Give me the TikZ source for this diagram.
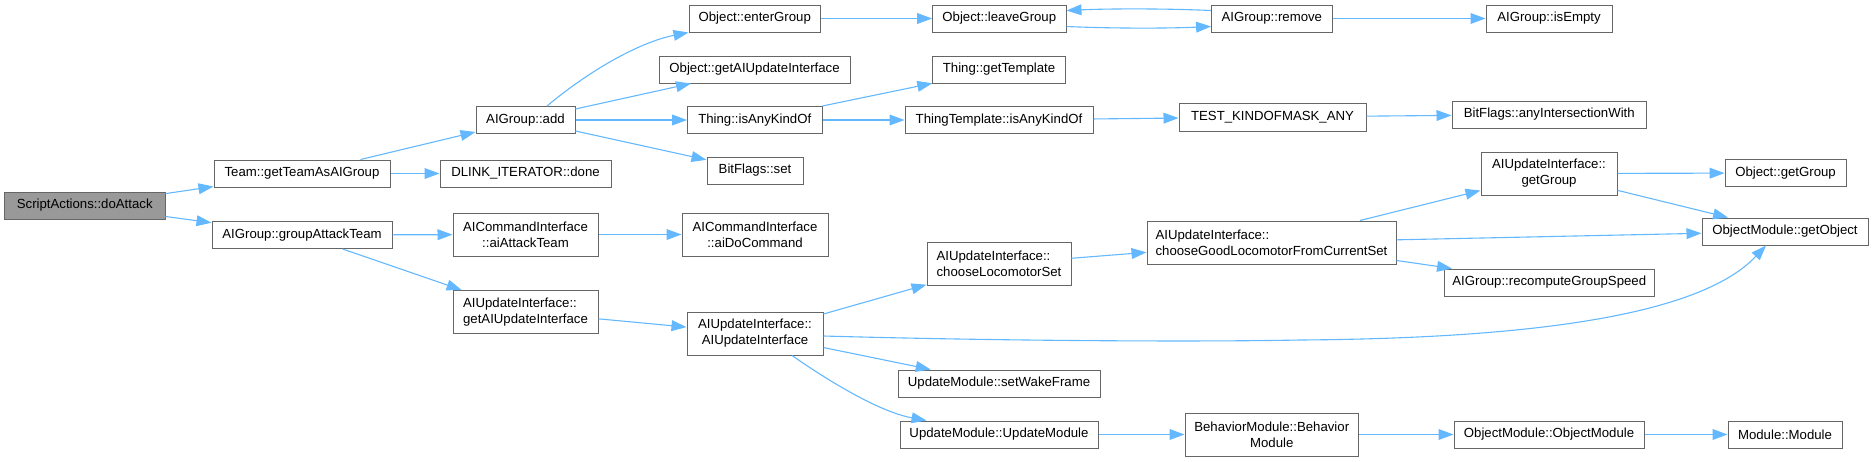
\documentclass[tikz,border=0pt]{standalone}
\usepackage{fontspec}
\setmainfont{Liberation Sans}
\usetikzlibrary{arrows.meta,calc}
\definecolor{edgeblue}{HTML}{63B8FF}
\definecolor{nodeborder}{HTML}{666666}
\definecolor{rootfill}{HTML}{999999}
\begin{document}
\begin{tikzpicture}[x=0.5pt,y=-0.5pt,
  box/.style={draw=nodeborder, line width=0.5pt, fill=white, inner sep=0pt,
    minimum height=13.5pt, font=\fontsize{6.6}{8}\selectfont, text=black, align=center},
  dbl/.style={minimum height=21.5pt},
  lft/.style={align=left},
  rootbox/.style={box, fill=rootfill},
  edge/.style={draw=edgeblue, line width=0.55pt, -{Triangle[length=7.5pt,width=5.4pt]}}]
\useasboundingbox (0,0) rectangle (1873,461);

% column 1
\node[rootbox, minimum width=80.25pt] (root) at (84.75,205.5) {ScriptActions::doAttack};
% column 2
\node[box, minimum width=88pt] (team) at (302,173.5) {Team::getTeamAsAIGroup};
\node[box, minimum width=90pt] (grpAtk) at (302,235) {AIGroup::groupAttackTeam};
% column 3
\node[box, minimum width=49.5pt] (add) at (525.5,120) {AIGroup::add};
\node[box, minimum width=85.5pt] (dlink) at (525.5,173.5) {DLINK\_ITERATOR::done};
\node[box, dbl, minimum width=72.5pt] (aiAttack) at (525.5,234.5) {AICommandInterface\\::aiAttackTeam};
\node[box, dbl, lft, minimum width=72.5pt] (getAIUI) at (525.5,312) {AIUpdateInterface::\\getAIUpdateInterface};
% column 4
\node[box, minimum width=65.75pt] (enter) at (754.75,18.5) {Object::enterGroup};
\node[box, minimum width=95.5pt] (objGetAIUI) at (754.5,69.5) {Object::getAIUpdateInterface};
\node[box, minimum width=67.25pt] (thingIsAny) at (754.75,120) {Thing::isAnyKindOf};
\node[box, minimum width=48pt] (bfSet) at (755,170.5) {BitFlags::set};
\node[box, dbl, minimum width=73pt] (aiDo) at (755,234.5) {AICommandInterface\\::aiDoCommand};
\node[box, dbl, minimum width=68pt] (ctor) at (755,333.5) {AIUpdateInterface::\\AIUpdateInterface};
% column 5
\node[box, minimum width=66.7pt] (leave) at (999.3,18.5) {Object::leaveGroup};
\node[box, minimum width=66.2pt] (getTemplate) at (999,69.5) {Thing::getTemplate};
\node[box, minimum width=94pt] (ttIsAny) at (999,120) {ThingTemplate::isAnyKindOf};
\node[box, dbl, lft, minimum width=72pt] (chooseLoc) at (999,264) {AIUpdateInterface::\\chooseLocomotorSet};
\node[box, minimum width=101pt] (setWake) at (999,383.5) {UpdateModule::setWakeFrame};
\node[box, minimum width=99pt] (updMod) at (999,434.5) {UpdateModule::UpdateModule};
% column 6
\node[box, minimum width=60.2pt] (remove) at (1271.8,18.5) {AIGroup::remove};
\node[box, minimum width=93.5pt, minimum height=14pt] (test) at (1272.5,117) {TEST\_KINDOFMASK\_ANY};
\node[box, dbl, lft, minimum width=124.5pt] (chooseGood) at (1271.5,242.5) {AIUpdateInterface::\\chooseGoodLocomotorFromCurrentSet};
\node[box, dbl, minimum width=86.75pt] (behav) at (1271.75,434.5) {BehaviorModule::Behavior\\Module};
% column 7
\node[box, minimum width=63pt] (isEmpty) at (1549,18.5) {AIGroup::isEmpty};
\node[box, minimum width=97.25pt] (anyInt) at (1549.25,114.5) {BitFlags::anyIntersectionWith};
\node[box, dbl, minimum width=68pt] (getGroup) at (1549,173.5) {AIUpdateInterface::\\getGroup};
\node[box, minimum width=105.25pt] (recompute) at (1549.25,282.5) {AIGroup::recomputeGroupSpeed};
\node[box, minimum width=95pt] (objMod) at (1549,434.5) {ObjectModule::ObjectModule};
% column 8
\node[box, minimum width=60.5pt] (objGetGroup) at (1785.5,173) {Object::getGroup};
\node[box, minimum width=83pt] (getObject) at (1785,231.5) {ObjectModule::getObject};
\node[box, minimum width=57pt] (module) at (1785,434.5) {Module::Module};

% edges
\draw[edge] (root) -- (team);
\draw[edge] (root) -- (grpAtk);
\draw[edge] (team) -- (add);
\draw[edge] (team) -- (dlink);
\draw[edge] ($(add.north)+(21.5,0)$) .. controls (590,70) and (640,42) .. (enter.south west);
\draw[edge] (add) -- (objGetAIUI);
\draw[edge] (add) -- (thingIsAny);
\draw[edge] (add) -- (bfSet);
\draw[edge] (enter) -- (leave);
\draw[edge] ($(leave.east)+(0,8)$) .. controls +(45,2) and +(-45,2) .. ($(remove.west)+(0,8)$);
\draw[edge] ($(remove.west)+(0,-8)$) .. controls +(-45,-2) and +(45,-2) .. ($(leave.east)+(0,-8)$);
\draw[edge] (remove) -- (isEmpty);
\draw[edge] (thingIsAny) -- (getTemplate);
\draw[edge] (thingIsAny) -- (ttIsAny);
\draw[edge] (ttIsAny) -- (test);
\draw[edge] (test) -- (anyInt);
\draw[edge] (grpAtk) -- (aiAttack);
\draw[edge] (grpAtk) -- (getAIUI);
\draw[edge] (aiAttack) -- (aiDo);
\draw[edge] (getAIUI) -- (ctor);
\draw[edge] (ctor) -- (chooseLoc);
\draw[edge] ($(ctor.east)+(0,2.5)$) .. controls (1000,341) and (1200,342) .. (1300,340)
   .. controls (1580,338) and (1710,305) .. ($(getObject.south)+(-19,0)$);
\draw[edge] (ctor) -- (setWake);
\draw[edge] ($(ctor.south)+(37,0)$) .. controls (830,382) and (880,412) .. ($(updMod.north west)+(27,0)$);
\draw[edge] (chooseLoc) -- (chooseGood);
\draw[edge] (chooseGood) -- (getGroup);
\draw[edge] (chooseGood) -- (getObject);
\draw[edge] (chooseGood) -- (recompute);
\draw[edge] (getGroup) -- (objGetGroup);
\draw[edge] (getGroup) -- (getObject);
\draw[edge] (updMod) -- (behav);
\draw[edge] (behav) -- (objMod);
\draw[edge] (objMod) -- (module);
\end{tikzpicture}
\end{document}
